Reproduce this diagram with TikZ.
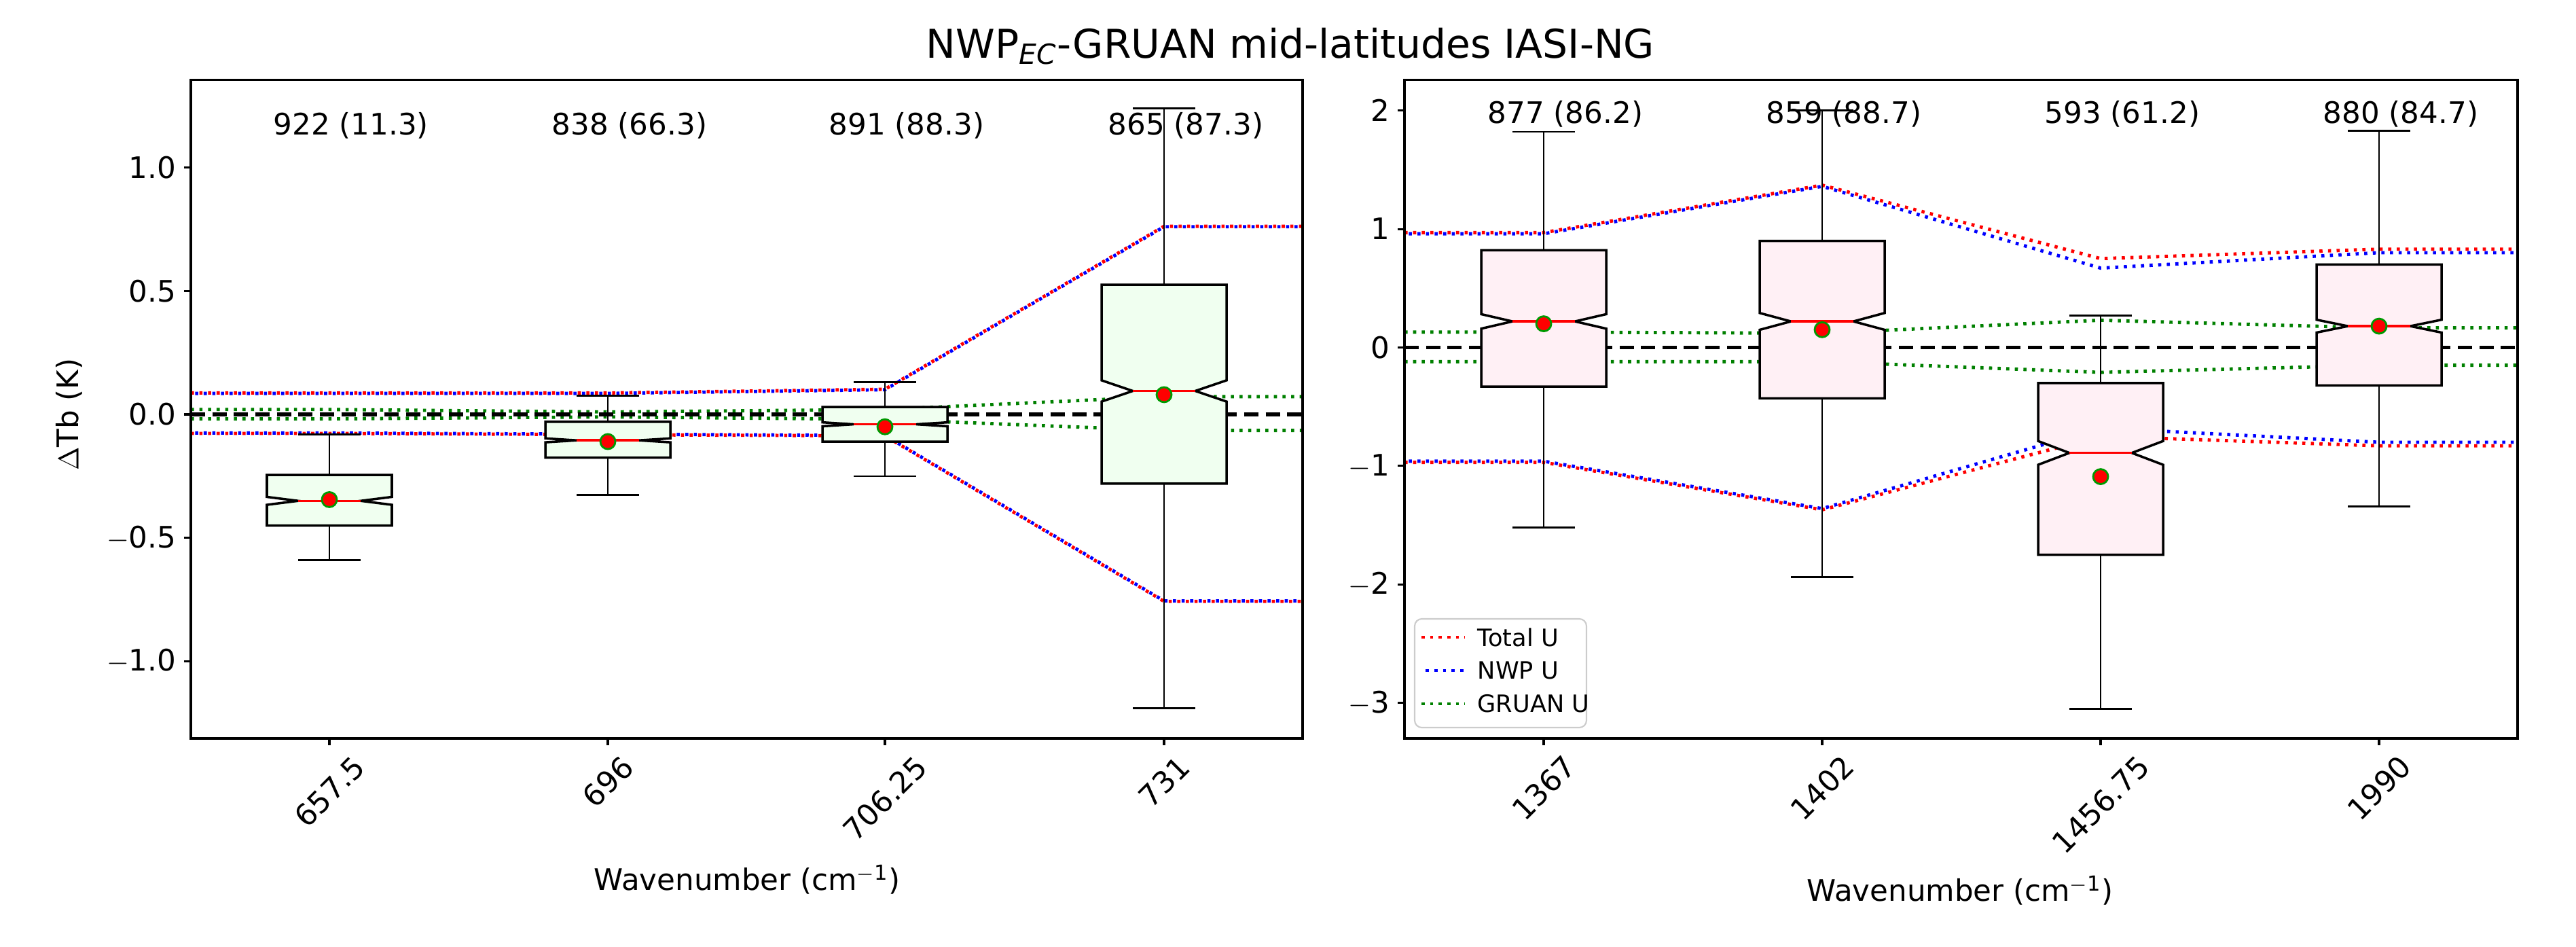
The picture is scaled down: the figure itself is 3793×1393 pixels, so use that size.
\documentclass[tikz,border=0pt]{standalone}
\usepackage{fontspec}
\setmainfont{DejaVu Sans}
\usepackage{graphicx}
\definecolor{honeydew}{HTML}{F0FFF0}
\definecolor{lavblush}{HTML}{FFF0F5}
\begin{document}
\begin{tikzpicture}[x=0.01cm,y=0.01cm,
  lab/.style={font=\fontsize{12.4}{14}\selectfont,inner sep=0},
  ax/.style={line width=0.9pt},
  wh/.style={line width=0.8pt},
  box/.style={line width=1pt,draw=black},
  med/.style={red,line width=1pt},
  dotr/.style={red,line width=1.4pt,dash pattern=on 1.3pt off 2.3pt},
  dotb/.style={blue,line width=1.4pt,dash pattern=on 1.3pt off 2.3pt,dash phase=1.8pt},
  dotg/.style={green!50!black,line width=1.4pt,dash pattern=on 1.3pt off 2.3pt},
  zero/.style={black,line width=1.6pt,dash pattern=on 6pt off 3pt}]
\useasboundingbox (0,0) rectangle (3793,1393);
\newcommand\boxplt[9]{%
  \draw[wh] (#1,#2)--(#1,#6) (#1-46,#6)--(#1+46,#6);
  \draw[wh] (#1,#3)--(#1,#7) (#1-46,#7)--(#1+46,#7);
  \filldraw[box,fill=#9] (#1-92,#2) -- (#1-92,#4-#5) -- (#1-46,#4) -- (#1-92,#4+#5) -- (#1-92,#3) -- (#1+92,#3) -- (#1+92,#4+#5) -- (#1+46,#4) -- (#1+92,#4-#5) -- (#1+92,#2) -- cycle;
  \draw[med] (#1-46,#4)--(#1+46,#4);
  \filldraw[fill=red,draw=green!60!black,line width=0.8pt] (#1,#8) circle[radius=0.11cm];}
% title
\node[font=\fontsize{16.6}{20}\selectfont,inner sep=0] (title) at (1900,1325) {NWP\textsubscript{\textit{EC}}-GRUAN mid-latitudes IASI-NG};
% ---------- left panel
\begin{scope}[yshift=7.825cm,y=3.633cm]
\begin{scope}
\clip (281,-1.312) rectangle (1918,1.356);
\draw[dotg] (281,0.02)--(485,0.02)--(895,0.01)--(1303,0.02)--(1714,0.072)--(1918,0.072);
\draw[dotg] (281,-0.018)--(485,-0.018)--(895,-0.01)--(1303,-0.02)--(1714,-0.065)--(1918,-0.065);
\draw[dotr] (281,0.087)--(485,0.087)--(895,0.087)--(1303,0.102)--(1714,0.762)--(1918,0.762);
\draw[dotb] (281,0.085)--(485,0.085)--(895,0.085)--(1303,0.10)--(1714,0.76)--(1918,0.76);
\draw[dotr] (281,-0.077)--(485,-0.077)--(895,-0.082)--(1303,-0.087)--(1714,-0.757)--(1918,-0.757);
\draw[dotb] (281,-0.075)--(485,-0.075)--(895,-0.08)--(1303,-0.085)--(1714,-0.755)--(1918,-0.755);
\draw[zero] (281,0)--(1918,0);
\end{scope}
\boxplt{485}{-0.45}{-0.245}{-0.35}{0.016}{-0.59}{-0.08}{-0.345}{honeydew}
\boxplt{895}{-0.175}{-0.03}{-0.105}{0.008}{-0.325}{0.075}{-0.11}{honeydew}
\boxplt{1303}{-0.11}{0.03}{-0.04}{0.008}{-0.25}{0.13}{-0.05}{honeydew}
\boxplt{1714}{-0.28}{0.525}{0.095}{0.043}{-1.19}{1.24}{0.08}{honeydew}
\draw[ax] (281,-1.312) rectangle (1918,1.356);
\foreach \v/\t in {1/1.0,0.5/0.5,0/0.0,-0.5/$-$0.5,-1/$-$1.0}{
  \draw[ax] (281,\v)--(271,\v);
  \node[lab,anchor=east] at (260,\v) {\t};}
\foreach \x/\t in {485/657.5,895/696,1303/706.25,1714/731}{
  \draw[ax] (\x,-1.312)--(\x,-1.34);
  \node[lab,anchor=north] at (\x,-1.372) {\rotatebox{45}{\t}};}
\foreach \x/\t in {485/922 (11.3),895/838 (66.3),1303/891 (88.3),1714/865 (87.3)}
  \node[lab] at (\x+32,1.17) {\t};
\end{scope}
\node[lab,rotate=90] (yl) at (102,783) {$\Delta$Tb (K)};
\node[lab] (xl1) at (1100,98) {Wavenumber (cm\textsuperscript{$-$1})};
% ---------- right panel
\begin{scope}[yshift=8.81cm,y=1.743cm]
\begin{scope}
\clip (2068,-3.30) rectangle (3707,2.26);
\draw[dotg] (2068,0.13)--(2273,0.13)--(2683,0.12)--(3093,0.23)--(3503,0.165)--(3707,0.165);
\draw[dotg] (2068,-0.12)--(2273,-0.12)--(2683,-0.12)--(3093,-0.21)--(3503,-0.15)--(3707,-0.15);
\draw[dotr] (2068,0.97)--(2273,0.97)--(2683,1.37)--(3093,0.75)--(3503,0.83)--(3707,0.83);
\draw[dotb] (2068,0.96)--(2273,0.96)--(2683,1.36)--(3093,0.67)--(3503,0.80)--(3707,0.80);
\draw[dotr] (2068,-0.97)--(2273,-0.97)--(2683,-1.37)--(3093,-0.75)--(3503,-0.83)--(3707,-0.83);
\draw[dotb] (2068,-0.96)--(2273,-0.96)--(2683,-1.36)--(3093,-0.68)--(3503,-0.80)--(3707,-0.80);
\draw[zero] (2068,0)--(3707,0);
\end{scope}
\boxplt{2273}{-0.33}{0.82}{0.22}{0.061}{-1.52}{1.82}{0.2}{lavblush}
\boxplt{2683}{-0.43}{0.9}{0.22}{0.071}{-1.94}{2.0}{0.15}{lavblush}
\boxplt{3093}{-1.75}{-0.3}{-0.89}{0.1}{-3.05}{0.27}{-1.09}{lavblush}
\boxplt{3503}{-0.32}{0.7}{0.18}{0.054}{-1.34}{1.83}{0.18}{lavblush}
\draw[ax] (2068,-3.30) rectangle (3707,2.26);
\foreach \v/\t in {2/2,1/1,0/0,-1/$-$1,-2/$-$2,-3/$-$3}{
  \draw[ax] (2068,\v)--(2058,\v);
  \node[lab,anchor=east] at (2047,\v) {\t};}
\foreach \x/\t in {2273/1367,2683/1402,3093/1456.75,3503/1990}{
  \draw[ax] (\x,-3.30)--(\x,-3.357);
  \node[lab,anchor=north] at (\x,-3.42) {\rotatebox{45}{\t}};}
\foreach \x/\t in {2273/877 (86.2),2683/859 (88.7),3093/593 (61.2),3503/880 (84.7)}
  \node[lab] at (\x+32,1.97) {\t};
\end{scope}
\node[lab] (xl2) at (2886,82) {Wavenumber (cm\textsuperscript{$-$1})};
% legend
\draw[black!20,fill=white,rounded corners=3pt,line width=0.6pt] (2083,322) rectangle (2336,482);
\draw[dotr] (2093,455)--(2157,455);
\draw[dotb] (2093,406)--(2157,406);
\draw[dotg] (2093,357)--(2157,357);
\node[font=\fontsize{10}{12}\selectfont,inner sep=0,anchor=west] (l1) at (2175,455) {Total U};
\node[font=\fontsize{10}{12}\selectfont,inner sep=0,anchor=west] (l2) at (2175,406) {NWP U};
\node[font=\fontsize{10}{12}\selectfont,inner sep=0,anchor=west] (l3) at (2175,357) {GRUAN U};
\end{tikzpicture}
\end{document}
